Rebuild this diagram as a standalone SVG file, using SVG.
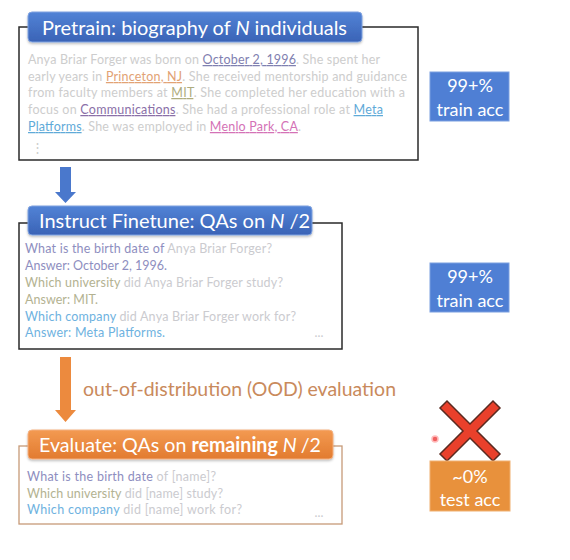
<svg xmlns="http://www.w3.org/2000/svg" width="570" height="560" viewBox="0 0 570 560">
<defs>
<linearGradient id="gBlue" x1="0" y1="0" x2="0" y2="1"><stop offset="0" stop-color="#5283d6"/><stop offset="1" stop-color="#3a63b6"/></linearGradient>
<linearGradient id="gOrange" x1="0" y1="0" x2="0" y2="1"><stop offset="0" stop-color="#f39a52"/><stop offset="1" stop-color="#e27b2f"/></linearGradient>
<filter id="sh" x="-5%" y="-20%" width="110%" height="150%"><feDropShadow dx="0" dy="1.5" stdDeviation="1.2" flood-color="#000" flood-opacity="0.25"/></filter>
</defs>
<style>
text{font-family:Lato,"Open Sans","Liberation Sans",sans-serif}
.title{fill:#fff;font-size:20px}
.body{font-size:12.5px;fill:#cdcdcd}
.q{font-size:12.5px;fill:#cbcbcf}
.frame{fill:#fff;stroke:#2a2a2a;stroke-width:1.5}
.frameO{fill:#fff;stroke:#c79a78;stroke-width:1.3}
.acc{fill:#fff;font-size:18px;text-anchor:middle}
.u{text-decoration:underline}
.c1{fill:#7f80b0}.c2{fill:#e2a274}.c3{fill:#aeac7e}.c4{fill:#8a6fa8}.c5{fill:#5faad8}.c6{fill:#d472b6}
.p{fill:#8e8ec0}.o{fill:#b3b291}.b{fill:#6eb2e0}
</style>
<rect width="570" height="560" fill="#fff"/>

<g id="pretrain">
<rect class="frame" x="19" y="27" width="399" height="133"/>
<rect x="28" y="12" width="334" height="30" rx="4" fill="url(#gBlue)" stroke="#7fa2e0" stroke-width="1" filter="url(#sh)"/>
<text class="title" x="42" y="35" textLength="305" lengthAdjust="spacingAndGlyphs">Pretrain: biography of <tspan font-style="italic">N</tspan> individuals</text>
<text class="body" x="28" y="64" textLength="352">Anya Briar Forger was born on <tspan class="c1 u">October 2, 1996</tspan>. She spent her</text>
<text class="body" x="28" y="81" textLength="379">early years in <tspan class="c2 u">Princeton, NJ</tspan>. She received mentorship and guidance</text>
<text class="body" x="28" y="97" textLength="377">from faculty members at <tspan class="c3 u">MIT</tspan>. She completed her education with a</text>
<text class="body" x="28" y="114" textLength="355">focus on <tspan class="c4 u">Communications</tspan>. She had a professional role at <tspan class="c5 u">Meta</tspan></text>
<text class="body" x="28" y="131" textLength="273"><tspan class="c5 u">Platforms</tspan>. She was employed in <tspan class="c6 u">Menlo Park, CA</tspan>.</text>
<text class="body" x="37" y="152" text-anchor="middle">⋮</text>
</g>

<g id="acc1">
<rect x="430" y="72" width="79" height="49" fill="#4f7fd4" stroke="#7b9fe0" stroke-width="1"/>
<text class="acc" x="470" y="92">99+%</text>
<text class="acc" x="470" y="116">train acc</text>
</g>

<g id="finetune">
<rect class="frame" x="19" y="223" width="323" height="126"/>
<rect x="28" y="206" width="284" height="29" rx="4" fill="url(#gBlue)" stroke="#7fa2e0" stroke-width="1" filter="url(#sh)"/>
<text class="title" x="39" y="228">Instruct Finetune: QAs on <tspan font-style="italic">N</tspan> /2</text>
<text class="q" x="25" y="253" textLength="247"><tspan class="p">What is the birth date of</tspan> Anya Briar Forger?</text>
<text class="q p" x="25" y="270" textLength="142">Answer: October 2, 1996.</text>
<text class="q" x="25" y="287" textLength="258"><tspan class="o">Which university</tspan> did Anya Briar Forger study?</text>
<text class="q o" x="25" y="304" textLength="73">Answer: MIT.</text>
<text class="q" x="25" y="321" textLength="271"><tspan class="b">Which company</tspan> did Anya Briar Forger work for?</text>
<text class="q b" x="25" y="337" textLength="140">Answer: Meta Platforms.</text>
<text class="q" x="319" y="337" text-anchor="middle" fill="#999">...</text>
</g>

<g id="acc2">
<rect x="430" y="263" width="79" height="49" fill="#4f7fd4" stroke="#7b9fe0" stroke-width="1"/>
<text class="acc" x="470" y="283">99+%</text>
<text class="acc" x="470" y="307">train acc</text>
</g>

<g id="evaluate">
<rect class="frameO" x="19" y="446" width="323" height="78"/>
<rect x="28" y="430" width="305" height="29" rx="4" fill="url(#gOrange)" stroke="#f4b080" stroke-width="1" filter="url(#sh)"/>
<text class="title" x="39" y="452" textLength="282" lengthAdjust="spacingAndGlyphs">Evaluate: QAs on <tspan font-weight="bold">remaining</tspan> <tspan font-style="italic">N</tspan><tspan dx="4">/2</tspan></text>
<text class="q" x="27" y="481" textLength="189" font-size="12"><tspan class="p">What is the birth date</tspan> of [name]?</text>
<text class="q" x="27" y="498" textLength="196" font-size="12"><tspan class="o">Which university</tspan> did [name] study?</text>
<text class="q" x="27" y="514" textLength="215" font-size="12"><tspan class="b">Which company</tspan> did [name] work for?</text>
<text class="q" x="319" y="517" text-anchor="middle" fill="#999">...</text>
</g>

<g id="result">
<path d="M447,401 L470,424 L493,401 L500,408 L477,431 L500,454 L493,461 L470,438 L447,461 L440,454 L463,431 L440,408 Z" fill="#e9402b" stroke="#5a2a20" stroke-width="1.5" stroke-linejoin="miter"/>
<circle cx="435" cy="439" r="3" fill="#f06060" stroke="#fbb" stroke-width="1.5"/>
<rect x="430" y="461" width="80" height="50" fill="#e8913c" stroke="#f0b070" stroke-width="1"/>
<text class="acc" x="470" y="483" fill="#fff">~0%</text>
<text class="acc" x="470" y="506" fill="#fff">test acc</text>
</g>

<g id="connectors">
<path d="M60,167 H71 V192 H76 L65.5,203 L55,192 H60 Z" fill="#4a78cc"/>
<path d="M60,357 H71 V410 H76 L65.5,422 L55,410 H60 Z" fill="#ec8a3e"/>
<text x="83" y="396" font-size="18.5" fill="#c98a5c" textLength="313" lengthAdjust="spacingAndGlyphs">out-of-distribution (OOD) evaluation</text>
</g>
</svg>
